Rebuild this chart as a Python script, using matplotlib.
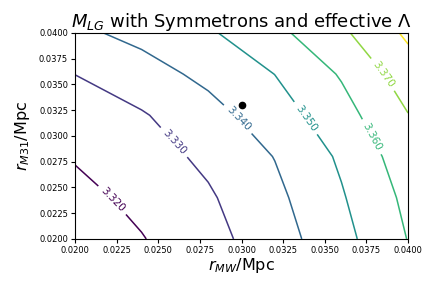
#!/usr/bin/env python3
"""Contour map of M_LG over the (r_MW, r_M31) plane for symmetrons with effective Lambda."""

import matplotlib
matplotlib.use('Agg')
import matplotlib.pyplot as plt
import numpy as np

# grid of radii (Mpc)
r_mw = [0.020, 0.024, 0.028, 0.032, 0.036, 0.040]
r_m31 = [0.020, 0.024, 0.028, 0.032, 0.036, 0.040]

# M_LG values, one row per r_M31
m_lg = [
    [3.3134, 3.3195, 3.3267, 3.3354, 3.3468, 3.3603],
    [3.3169, 3.3226, 3.3288, 3.3376, 3.3491, 3.3623],
    [3.3208, 3.3258, 3.3320, 3.3403, 3.3515, 3.3654],
    [3.3240, 3.3291, 3.3365, 3.3452, 3.3562, 3.3697],
    [3.3301, 3.3360, 3.3424, 3.3501, 3.3609, 3.3752],
    [3.3380, 3.3427, 3.3487, 3.3574, 3.3682, 3.3818],
]
levels = [3.32, 3.33, 3.34, 3.35, 3.36, 3.37, 3.38]

# observed point
obs_mw = 0.030
obs_m31 = 0.033

ticks = [0.0200, 0.0225, 0.0250, 0.0275, 0.0300, 0.0325, 0.0350, 0.0375, 0.0400]


def main():
    X, Y = np.meshgrid(r_mw, r_m31)
    Z = np.array(m_lg)

    fig = plt.figure(figsize=(4.36, 2.91), dpi=100)
    ax = fig.add_axes([0.172, 0.179, 0.764, 0.708])

    cs = ax.contour(X, Y, Z, levels=levels, cmap='viridis', linewidths=1.1)
    label_spots = [(0.0224, 0.0240), (0.0261, 0.0296), (0.0299, 0.0318),
                   (0.0341, 0.0320), (0.0378, 0.0299), (0.0386, 0.0361)]
    ax.clabel(cs, levels[:6], fmt='%.3f', fontsize=7.5, manual=label_spots)

    ax.plot(obs_mw, obs_m31, 'o', color='black', markersize=4.5)

    ax.set_xlim(0.02, 0.04)
    ax.set_ylim(0.02, 0.04)
    ax.set_xticks(ticks)
    ax.set_yticks(ticks)
    ax.set_xticklabels([f'{t:.4f}' for t in ticks])
    ax.set_yticklabels([f'{t:.4f}' for t in ticks])
    ax.tick_params(labelsize=6, length=3, pad=2)

    ax.set_xlabel(r'$r_{MW}$/Mpc', fontsize=11.5, labelpad=1)
    ax.set_ylabel(r'$r_{M31}$/Mpc', fontsize=11.5, labelpad=5)
    ax.set_title(r'$M_{LG}$ with Symmetrons and effective $\Lambda$', fontsize=13, pad=3)

    fig.savefig('out.png', dpi=100)
    plt.close(fig)


if __name__ == '__main__':
    main()
